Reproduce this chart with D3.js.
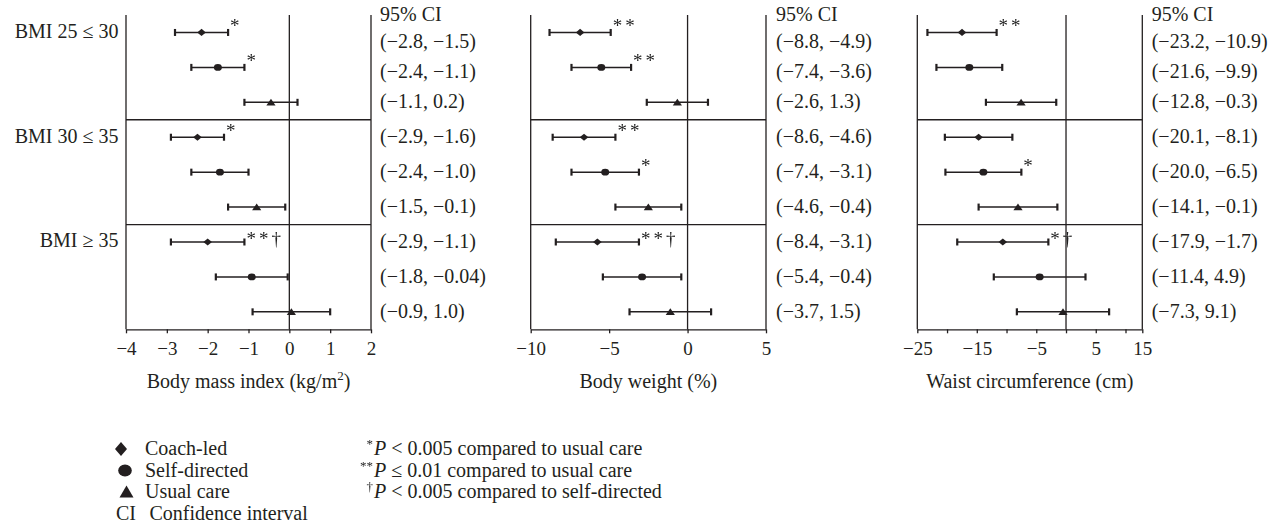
<!DOCTYPE html>
<html><head><meta charset="utf-8">
<script src="https://cdn.jsdelivr.net/npm/d3@7"></script>
<style>
body{margin:0;background:#fff}
text{font-family:"Liberation Serif","Times New Roman",serif;fill:#231f20}
.sig{filter:grayscale(100%)}
</style>
</head><body><svg id="c" width="1283" height="524"></svg>
<script>
// ---------------- data ----------------
const groupLabels = ["BMI 25 ≤ 30", "BMI 30 ≤ 35", "BMI ≥ 35"];
const arms = ["Coach-led", "Self-directed", "Usual care"];
// 9 rows: for each BMI group, Coach-led / Self-directed / Usual care
const bmiEst  = [-2.15, -1.75, -0.45, -2.25, -1.7, -0.8, -2.0, -0.92, 0.05];
const bmiLow  = [-2.8, -2.4, -1.1, -2.9, -2.4, -1.5, -2.9, -1.8, -0.9];
const bmiHigh = [-1.5, -1.1, 0.2, -1.6, -1.0, -0.1, -1.1, -0.04, 1.0];
const bmiSig  = ["*", "*", "", "*", "", "", "**†", "", ""];

const wtEst  = [-6.85, -5.5, -0.65, -6.6, -5.25, -2.5, -5.75, -2.9, -1.1];
const wtLow  = [-8.8, -7.4, -2.6, -8.6, -7.4, -4.6, -8.4, -5.4, -3.7];
const wtHigh = [-4.9, -3.6, 1.3, -4.6, -3.1, -0.4, -3.1, -0.4, 1.5];
const wtSig  = ["**", "**", "", "**", "*", "", "**†", "", ""];

const waistEst  = [-17.05, -15.75, -6.55, -14.1, -13.25, -7.1, -9.8, -3.25, 0.9];
const waistLow  = [-23.2, -21.6, -12.8, -20.1, -20.0, -14.1, -17.9, -11.4, -7.3];
const waistHigh = [-10.9, -9.9, -0.3, -8.1, -6.5, -0.1, -1.7, 4.9, 9.1];
const waistSig  = ["**", "", "", "", "*", "", "*†", "", ""];

const bmiTicks = [-4, -3, -2, -1, 0, 1, 2];
const bmiTickLabels = ["−4", "−3", "−2", "−1", "0", "1", "2"];
const wtTicks = [-10, -5, 0, 5];
const wtTickLabels = ["−10", "−5", "0", "5"];
const waistTicks = [-25, -20, -15, -10, -5, 0, 5, 10, 15];
const waistTickLabels = ["−25", "", "−15", "", "−5", "", "5", "", "15"];

const axisTitles = ["Body mass index (kg/m", "Body weight (%)", "Waist circumference (cm)"];
const ciHeader = "95% CI";
const footnoteMarks = ["*", "**", "†"];
const footnotes = [["P", " < 0.005 compared to usual care"], ["P", " ≤ 0.01 compared to usual care"], ["P", " < 0.005 compared to self-directed"]];
const legendExtra = ["CI", "Confidence interval"];

// ---------------- layout ----------------
const svg = d3.select("#c");
const ink = "#231f20";
const yTop = 15, yBottom = 329.3;
const rows = d3.range(9);
const y = d3.scalePoint().domain(rows).range([yTop, yBottom]).padding(0.5);
const step = y.step();
const ciOffsets = [16, 10.5, 6, 6, 6, 6, 6, 6, 6];

const fmt = v => {
  let s = String(v);
  if (!s.includes(".")) s = v.toFixed(1);
  return s.replace("-", "−");
};

function markerPath(arm) {
  const p = d3.path();
  if (arm === 0) { // diamond
    p.moveTo(-4.3, 0); p.lineTo(0, -3.6); p.lineTo(4.3, 0); p.lineTo(0, 3.6); p.closePath();
  } else if (arm === 2) { // triangle
    p.moveTo(-4.6, 3.2); p.lineTo(0, -3.6); p.lineTo(4.6, 3.2); p.closePath();
  }
  return p.toString();
}

const panels = [
  {est: bmiEst, low: bmiLow, high: bmiHigh, sig: bmiSig, ticks: bmiTicks, tl: bmiTickLabels,
   x: d3.scaleLinear().domain([-4, 2]).range([126, 371]), ciX: 380, title: 0},
  {est: wtEst, low: wtLow, high: wtHigh, sig: wtSig, ticks: wtTicks, tl: wtTickLabels,
   x: d3.scaleLinear().domain([-10, 5]).range([530.7, 766]), ciX: 776, title: 1},
  {est: waistEst, low: waistLow, high: waistHigh, sig: waistSig, ticks: waistTicks, tl: waistTickLabels,
   x: d3.scaleLinear().domain([-25, 15]).range([917.3, 1142.3]),
   axisX: d3.scaleLinear().domain([-25, 10, 15]).range([917.3, 1125.5, 1142.3]), ciX: 1151.7, title: 2}
];

panels.forEach(P => {
  const x = P.x, ax = P.axisX || P.x;
  const g = svg.append("g");
  const [x0, x1] = x.range();
  // frame lines
  g.append("line").attr("x1", x0).attr("x2", x0).attr("y1", yTop).attr("y2", yBottom);
  g.append("line").attr("x1", x1).attr("x2", x1).attr("y1", yTop).attr("y2", yBottom);
  g.append("line").attr("x1", ax(0)).attr("x2", ax(0)).attr("y1", yTop).attr("y2", yBottom);
  [2, 5].forEach(r => {
    const yy = y(r) + step / 2;
    g.append("line").attr("x1", x0).attr("x2", x1).attr("y1", yy).attr("y2", yy);
  });
  g.selectAll("line").attr("stroke", ink).attr("stroke-width", 1.3);

  // axis
  const axis = d3.axisBottom(ax).tickValues(P.ticks).tickSize(4).tickSizeOuter(0)
    .tickFormat((d, i) => P.tl[i]);
  const ag = svg.append("g").attr("transform", `translate(0,${yBottom})`).call(axis);
  ag.select(".domain").attr("stroke", ink).attr("stroke-width", 1.3);
  ag.selectAll(".tick line").attr("stroke", ink).attr("stroke-width", 1.3);
  ag.selectAll(".tick text").attr("dy", null).attr("y", 26)
    .style("font-family", "'Liberation Serif','Times New Roman',serif").style("font-size", "19px").attr("fill", ink);

  // whiskers
  const eg = svg.append("g");
  rows.forEach(i => {
    const yy = y(i);
    eg.append("line").attr("x1", x(P.low[i])).attr("x2", x(P.high[i])).attr("y1", yy).attr("y2", yy)
      .attr("stroke", ink).attr("stroke-width", 1.5);
    [P.low[i], P.high[i]].forEach(v => {
      eg.append("line").attr("x1", x(v)).attr("x2", x(v)).attr("y1", yy - 3.5).attr("y2", yy + 3.5)
        .attr("stroke", ink).attr("stroke-width", 2.2);
    });
    const arm = i % 3;
    if (arm === 1) {
      eg.append("ellipse").attr("cx", x(P.est[i])).attr("cy", yy).attr("rx", 4).attr("ry", 3.4).attr("fill", ink);
    } else {
      eg.append("path").attr("d", markerPath(arm)).attr("transform", `translate(${x(P.est[i])},${yy})`).attr("fill", ink);
    }
    if (P.sig[i]) {
      const dag = P.sig[i].includes("†");
      eg.append("text").attr("class", "sig").attr("x", x(P.high[i]) + 2).attr("y", yy + (dag ? 3.5 : 0))
        .attr("font-size", 19).attr("letter-spacing", 3).text(P.sig[i]);
    }
    // CI text
    svg.append("text").attr("x", P.ciX).attr("y", yy + ciOffsets[i]).attr("font-size", 20)
      .text(`(${fmt(P.low[i])}, ${fmt(P.high[i])})`);
  });
  svg.append("text").attr("x", P.ciX).attr("y", 20.7).attr("font-size", 20).text(ciHeader);

  // axis title
  const t = svg.append("text").attr("x", (x0 + x1) / 2).attr("y", 388).attr("text-anchor", "middle")
    .attr("font-size", 20);
  if (P.title === 0) {
    t.append("tspan").text(axisTitles[0]);
    t.append("tspan").attr("font-size", 13).attr("dy", -8).text("2");
    t.append("tspan").attr("dy", 8).text(")");
  } else t.text(axisTitles[P.title]);
});

// group labels
groupLabels.forEach((lab, k) => {
  svg.append("text").attr("x", 118.5).attr("y", y(k * 3) + 5.5).attr("text-anchor", "end")
    .attr("font-size", 20).text(lab);
});

// legend
const legY = [455, 476.5, 498, 519.5];
const lg = svg.append("g");
lg.append("path").attr("d", "M-6,0L0,-7L6,0L0,7Z").attr("transform", `translate(121,${legY[0] - 6})`).attr("fill", ink);
lg.append("ellipse").attr("cx", 125).attr("cy", legY[1] - 6).attr("rx", 6.8).attr("ry", 6).attr("fill", ink);
lg.append("path").attr("d", "M-7,5.5L0,-6.5L7,5.5Z").attr("transform", `translate(126.5,${legY[2] - 6})`).attr("fill", ink);
arms.forEach((a, i) => {
  lg.append("text").attr("x", 145).attr("y", legY[i]).attr("font-size", 20).text(a);
});
lg.append("text").attr("x", 116).attr("y", legY[3]).attr("font-size", 20).text(legendExtra[0]);
lg.append("text").attr("x", 149.5).attr("y", legY[3]).attr("font-size", 20).text(legendExtra[1]);

// footnotes
footnotes.forEach((f, i) => {
  svg.append("text").attr("class", "sig").attr("x", 373).attr("y", legY[i] - 7).attr("text-anchor", "end")
    .attr("font-size", 13).text(footnoteMarks[i]);
  const t = svg.append("text").attr("x", 374).attr("y", legY[i]).attr("font-size", 20);
  t.append("tspan").attr("font-style", "italic").text(f[0]);
  t.append("tspan").text(f[1]);
});
</script>
</body></html>
